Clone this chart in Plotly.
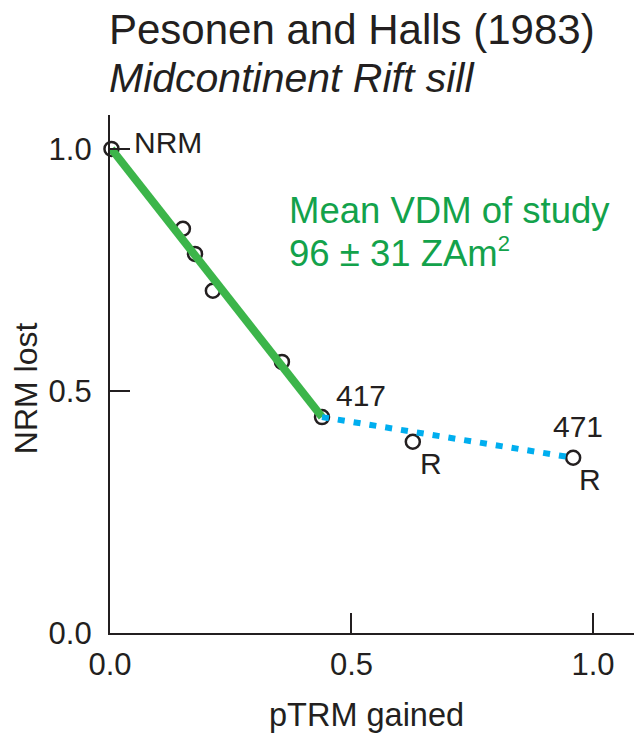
import plotly.graph_objects as go

# Arai plot data: pTRM gained vs NRM lost
ptrm_gained = [0.003, 0.151, 0.176, 0.213, 0.356, 0.439, 0.627, 0.959]
nrm_lost = [1.0, 0.835, 0.783, 0.707, 0.560, 0.446, 0.395, 0.362]

# index ranges for the fitted (green) and rejected (blue dotted) segments
fit_idx = [0, 5]
tail_idx = [5, 7]

tick_vals = [0.0, 0.5, 1.0]
tick_text = ["0.0", "0.5", "1.0"]

title_text = "Pesonen and Halls (1983)"
subtitle_text = "<i>Midcontinent Rift sill</i>"
vdm_lines = ["Mean VDM of study",
             "96 ± 31 ZAm<sup><span style='font-size:22px'>2</span></sup>"]

INK = "#231f20"
GREEN_LINE = "#3cb54a"
GREEN_TEXT = "#13a24b"
BLUE = "#00aeef"
FONT = "Liberation Sans, Arial, sans-serif"

fig = go.Figure()

# measurement points (drawn first so lines sit over them)
fig.add_trace(go.Scatter(
    x=ptrm_gained, y=nrm_lost, mode="markers",
    marker=dict(symbol="circle-open", size=14, color=INK, line=dict(width=2.5, color=INK)),
    hoverinfo="skip", showlegend=False, cliponaxis=False,
))

# best-fit segment
fig.add_trace(go.Scatter(
    x=[ptrm_gained[i] for i in fit_idx], y=[nrm_lost[i] for i in fit_idx],
    mode="lines", line=dict(color=GREEN_LINE, width=8),
    hoverinfo="skip", showlegend=False,
))

# high-temperature segment excluded from the fit
fig.add_trace(go.Scatter(
    x=[ptrm_gained[i] for i in tail_idx], y=[nrm_lost[i] for i in tail_idx],
    mode="lines", line=dict(color=BLUE, width=6, dash="7px,9px"),
    hoverinfo="skip", showlegend=False,
))

lbl_font = dict(family=FONT, size=30, color=INK)
point_labels = [
    (0, "NRM", "left", 21, 6),
    (5, "417", "left", 12, 22),
    (6, "R", "left", 5, -22),
    (7, "471", "center", 5, 31),
    (7, "R", "left", 4, -22),
]
annotations = []
for idx, txt, anchor, dx, dy in point_labels:
    annotations.append(dict(
        x=ptrm_gained[idx], y=nrm_lost[idx], xref="x", yref="y",
        text=txt, showarrow=False, xanchor=anchor, yanchor="middle",
        xshift=dx, yshift=dy, font=lbl_font,
    ))

# result text
for line, yy in zip(vdm_lines, [0.872, 0.787]):
    annotations.append(dict(
        x=0.3665, y=yy, xref="x", yref="y", text=line, showarrow=False,
        xanchor="left", yanchor="middle",
        font=dict(family=FONT, size=36.5, color=GREEN_TEXT),
    ))

# headings
annotations.append(dict(
    x=0, y=1.166, xref="paper", yref="paper", text=title_text, showarrow=False,
    xanchor="left", yanchor="middle", xshift=-3,
    font=dict(family=FONT, size=42, color=INK),
))
annotations.append(dict(
    x=0, y=1.071, xref="paper", yref="paper", text=subtitle_text, showarrow=False,
    xanchor="left", yanchor="middle", xshift=-3,
    font=dict(family=FONT, size=41, color=INK),
))

# axis titles
annotations.append(dict(
    x=-0.160, y=0.473, xref="paper", yref="paper", text="NRM lost", showarrow=False,
    textangle=-90, xanchor="center", yanchor="middle",
    font=dict(family=FONT, size=32, color=INK),
))
annotations.append(dict(
    x=0.489, y=-0.158, xref="paper", yref="paper", text="pTRM gained", showarrow=False,
    xanchor="center", yanchor="middle",
    font=dict(family=FONT, size=32.5, color=INK),
))

axis_common = dict(
    showgrid=False, zeroline=False, showline=True, linecolor=INK, linewidth=2.2,
    ticks="inside", ticklen=20, tickwidth=2, tickcolor=INK,
    tickvals=tick_vals, ticktext=tick_text,
    tickfont=dict(family=FONT, size=31, color=INK),
)

fig.update_layout(
    width=634, height=734,
    margin=dict(l=110, r=0, t=115, b=101),
    paper_bgcolor="white", plot_bgcolor="white",
    xaxis=dict(range=[0, 1.085], ticklabelstandoff=3, **axis_common),
    yaxis=dict(range=[0, 1.07], ticklabelstandoff=10, **axis_common),
    annotations=annotations,
    showlegend=False,
)

fig.write_html("out.html")
